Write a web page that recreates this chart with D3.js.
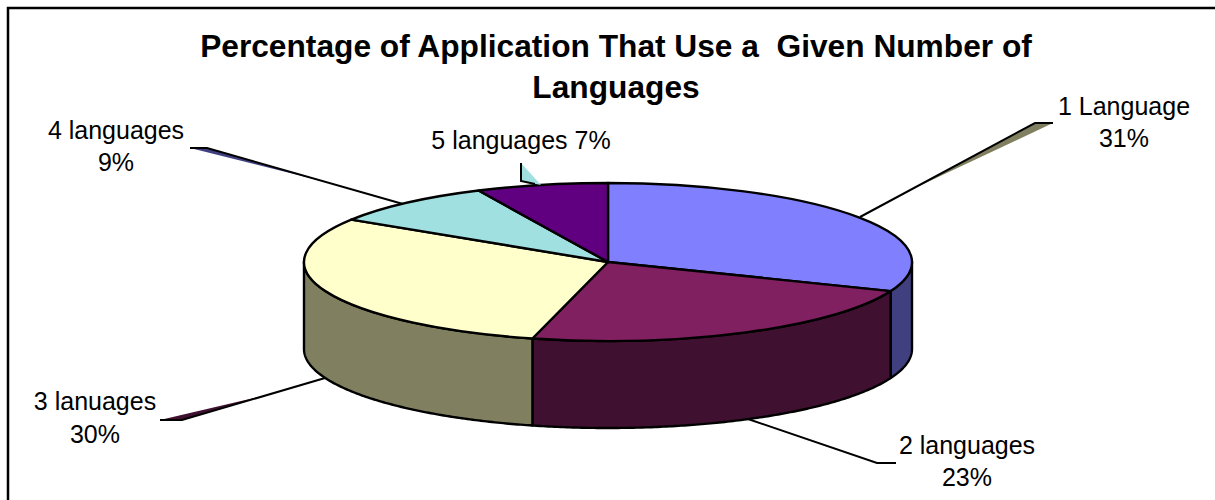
<!DOCTYPE html>
<html>
<head>
<meta charset="utf-8">
<title>Languages per application</title>
<script src="https://cdn.jsdelivr.net/npm/d3@7"></script>
<style>
  html, body { margin: 0; padding: 0; background: #fff; overflow: hidden; }
  svg { display: block; }
  text { font-family: "Liberation Sans", Arial, sans-serif; fill: #000; white-space: pre; }
  .title { font-size: 31.7px; font-weight: bold; text-anchor: middle; }
  .label { font-size: 25px; text-anchor: middle; }
</style>
</head>
<body>
<div id="chart"></div>
<script>
// Chart data
var categories = ["1 Language", "2 languages", "3 lanuages", "4 languages", "5 languages"];
var values = [31, 23, 30, 9, 7];
var title_lines = ["Percentage of Application That Use a  Given Number of", "Languages"];
var top_colors = ["#8080ff", "#802060", "#ffffcc", "#a0e0e0", "#600080"];
var side_colors = ["#404080", "#401030", "#808060", "#507070", "#300040"];

var W = 1215, H = 500;
var CX = 608, CY = 262, RX = 304, RY = 79, DEPTH = 87;

// Labels and their leader lines, placed by hand like the original
var label_lines = [
  [{t: "1 Language", x: 1124, y: 115}, {t: "31%", x: 1124, y: 147}],
  [{t: "2 languages", x: 967, y: 454}, {t: "23%", x: 967, y: 486}],
  [{t: "3 lanuages", x: 95, y: 410}, {t: "30%", x: 95, y: 443}],
  [{t: "4 languages", x: 116, y: 139}, {t: "9%", x: 116, y: 171}],
  [{t: "5 languages 7%", x: 521, y: 149}]
];
var leaders = [
  [[860, 217], [1035, 123], [1053, 123]],
  [[748, 419], [877, 463], [896, 463]],
  [[325, 378], [182, 420], [160, 420]],
  [[403, 204], [207, 148], [190, 148]],
  [[535, 184], [521, 181], [521, 163]]
];
var leader_shadows = [
  [[1053, 123], [1035, 123], [917, 187]],
  null,
  [[160, 420], [182, 420], [267, 395]],
  [[190, 148], [207, 148], [330, 183]],
  [[521, 163], [521, 181], [541, 185]]
];
var shadow_colors = ["#808060", null, "#401030", "#404080", "#a0e0e0"];

var svg = d3.select("#chart").append("svg")
  .attr("width", W)
  .attr("height", H);

// Frame, only top and left show in the picture
svg.append("path")
  .attr("d", d3.line()([[8, H], [8, 8], [W, 8]]))
  .style("fill", "none")
  .style("stroke", "#000")
  .style("stroke-width", 2.5);

// Title
svg.selectAll(".title")
  .data(title_lines)
  .enter()
  .append("text")
  .attr("class", "title")
  .attr("x", 616)
  .attr("y", function(d, i){ return 57 + i * 41; })
  .text(function(d){ return d; });

// Slices run clockwise from twelve o'clock
var pie = d3.pie().sort(null)(values);

var x = d3.scaleLinear().domain([-1, 1]).range([CX - RX, CX + RX]);
var y = d3.scaleLinear().domain([-1, 1]).range([CY - RY, CY + RY]);
var rim = function(a){ return [x(Math.sin(a)), y(-Math.cos(a))]; };

// Walls, only the part of a slice facing the viewer (PI/2 .. 3PI/2)
var line = d3.line();
pie.forEach(function(s, i){
  var a0 = Math.max(s.startAngle, Math.PI / 2);
  var a1 = Math.min(s.endAngle, Math.PI * 3 / 2);
  if(a1 <= a0) return;
  var angles = d3.range(a0, a1, 0.01).concat([a1]);
  var front = angles.map(rim);
  var back = front.slice().reverse().map(function(p){ return [p[0], p[1] + DEPTH]; });
  svg.append("path")
    .attr("class", "wall")
    .attr("d", line(front.concat(back)) + "Z")
    .style("fill", side_colors[i])
    .style("stroke", "#000")
    .style("stroke-width", 2.4)
    .style("stroke-linejoin", "round");
});

// Top face, a squashed d3.arc
var arc = d3.arc().innerRadius(0).outerRadius(RX);
svg.append("g")
  .attr("transform", "translate(" + CX + "," + CY + ") scale(1," + (RY / RX) + ")")
  .selectAll("path")
  .data(pie)
  .enter()
  .append("path")
  .attr("d", arc)
  .attr("vector-effect", "non-scaling-stroke")
  .style("fill", function(d, i){ return top_colors[i]; })
  .style("stroke", "#000")
  .style("stroke-width", 2.4)
  .style("stroke-linejoin", "round");

// Leader lines with their odd tapered shadows
leader_shadows.forEach(function(pts, i){
  if(!pts) return;
  svg.append("path")
    .attr("d", line(pts) + "Z")
    .style("fill", shadow_colors[i]);
});
leaders.forEach(function(pts){
  svg.append("path")
    .attr("d", line(pts))
    .style("fill", "none")
    .style("stroke", "#000")
    .style("stroke-width", 2);
});

// Labels
label_lines.forEach(function(lines){
  lines.forEach(function(l){
    svg.append("text")
      .attr("class", "label")
      .attr("x", l.x)
      .attr("y", l.y)
      .text(l.t);
  });
});
</script>
</body>
</html>
